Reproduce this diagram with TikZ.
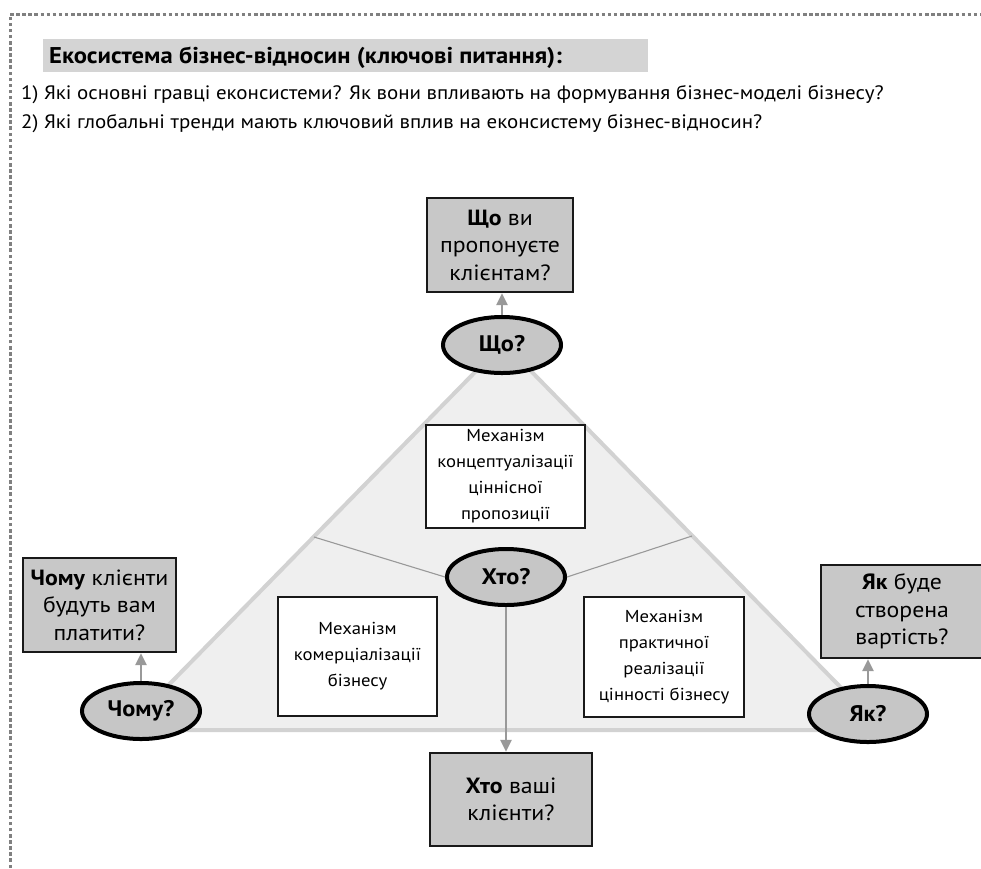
\documentclass[tikz,border=0pt]{standalone}
\usepackage{fontspec}
\setmainfont{PT Sans}[FakeStretch=1.08]
\usetikzlibrary{arrows.meta,shapes.geometric}
\definecolor{boxgray}{HTML}{C8C8C8}
\definecolor{ovalgray}{HTML}{C6C6C6}
\definecolor{bargray}{HTML}{D4D4D4}
\definecolor{trifill}{HTML}{EFEFEF}
\definecolor{triedge}{HTML}{D2D2D2}
\definecolor{linkgray}{HTML}{999999}
\definecolor{framegray}{HTML}{808080}
\tikzset{
  qbox/.style={draw=black!90, line width=2.4pt, fill=boxgray, inner sep=0pt,
    align=center, font=\fontsize{22}{27.5}\selectfont},
  mechbox/.style={draw=black!90, line width=1.8pt, fill=white, inner sep=0pt,
    align=center, font=\fontsize{17.3}{26}\selectfont},
  oval/.style={ellipse, draw=black, line width=4pt, fill=ovalgray, inner sep=0pt,
    minimum width=118pt, minimum height=56pt, font=\bfseries\fontsize{22.5}{26}\selectfont},
  uparrow/.style={draw=linkgray, line width=2.6pt, -{Triangle[length=12pt,width=11pt]}},
  divider/.style={draw=black!40, line width=1.1pt},
  headline/.style={anchor=base west, inner sep=0pt},
}
\begin{document}
\begin{tikzpicture}[x=1pt, y=-1pt]
\useasboundingbox (0,0) rectangle (981,868);

% dotted frame (top and left sides)
\draw[framegray, line width=3pt, dash pattern=on 3.5pt off 2.6pt] (10,868) -- (10,14) -- (981,14);

% heading bar and questions
\fill[bargray] (43,39) rectangle (648,72);
\node[headline, font=\bfseries\fontsize{22.8}{26}\selectfont] (title) at (49,63)
  {Екосистема бізнес-відносин (ключові питання):};
\node[headline, font=\fontsize{19.4}{23}\selectfont] (q1) at (21,99)
  {1) Які основні гравці еконсистеми? Як вони впливають на формування бізнес-моделі бізнесу?};
\node[headline, font=\fontsize{19.4}{23}\selectfont] (q2) at (21,128)
  {2) Які глобальні тренди мають ключовий вплив на еконсистему бізнес-відносин?};

% triangle of the business model
\coordinate (apex) at (503.5,343);
\coordinate (cl) at (124.5,730);
\coordinate (cr) at (882.5,730);
\coordinate (el) at (314,537);
\coordinate (er) at (692,536);
\filldraw[fill=trifill, draw=triedge, line width=4pt, line join=round] (apex) -- (cr) -- (cl) -- cycle;

% mechanism boxes inside the triangle
\node[mechbox, minimum width=159pt, minimum height=103pt] (mtop) at (505.5,476.5)
  {Механізм\\концептуалізації\\ціннісної\\пропозиції};
\node[mechbox, minimum width=159pt, minimum height=119pt] (mleft) at (357.5,656.5)
  {Механізм\\комерціалізації\\бізнесу};
\node[mechbox, minimum width=160pt, minimum height=120pt] (mright) at (664,657)
  {Механізм\\практичної\\реалізації\\цінності бізнесу};

% ovals
\node[oval] (what) at (502,345) {Що?};
\node[oval] (who) at (506,577) {Хто?};
\node[oval] (why) at (141,711) {Чому?};
\node[oval] (how) at (868,714) {Як?};

\draw[divider] (el) -- (who.west);
\draw[divider] (er) -- (who.east);

% question boxes
\node[qbox, minimum width=146pt, minimum height=94pt] (whatbox) at (500,245)
  {\textbf{Що} ви\\пропонуєте\\клієнтам?};
\node[qbox, minimum width=153pt, minimum height=94pt] (whybox) at (99.5,605)
  {\textbf{Чому} клієнти\\будуть вам\\платити?};
\node[qbox, minimum width=162pt, minimum height=93pt] (howbox) at (902,611.5)
  {\textbf{Як} буде\\створена\\вартість?};
\node[qbox, minimum width=162pt, minimum height=93pt] (whobox) at (511,799.5)
  {\textbf{Хто} ваші\\клієнти?};

% connectors
\draw[uparrow] (what.north) -- (what.north |- whatbox.south);
\draw[uparrow] (why.north) -- (why.north |- whybox.south);
\draw[uparrow] (how.north) -- (how.north |- howbox.south);
\draw[uparrow] (who.south) -- (who.south |- whobox.north);
\end{tikzpicture}
\end{document}
